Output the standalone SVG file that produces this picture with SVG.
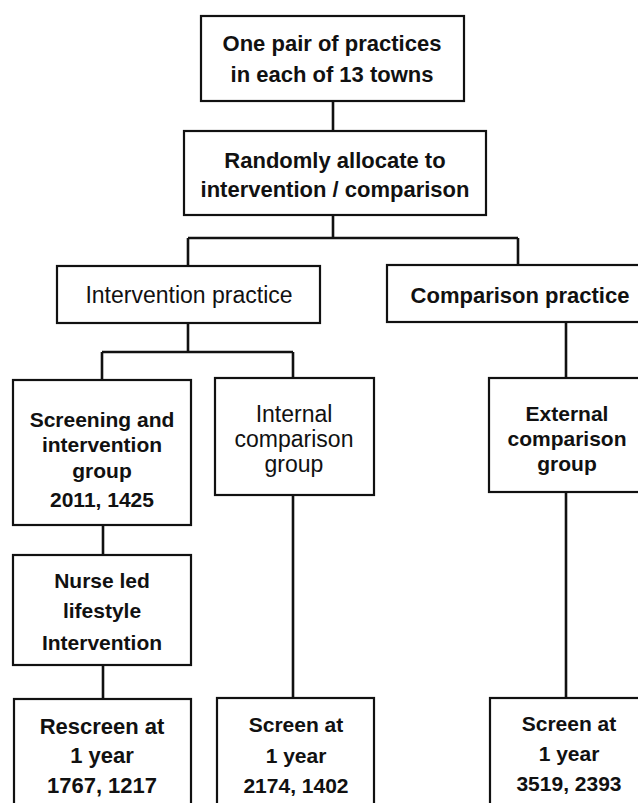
<svg xmlns="http://www.w3.org/2000/svg" width="638" height="803" viewBox="0 0 638 803">
<style>
  .box { fill: #ffffff; stroke: #111111; stroke-width: 2.2; }
  .con { fill: none; stroke: #111111; stroke-width: 2.6; }
  text { font-family: "Liberation Sans", Arial, sans-serif; fill: #111111; text-anchor: middle; }
  .b { font-size: 22px; font-weight: bold; }
  .m { font-size: 21px; font-weight: bold; }
  .r { font-size: 23px; font-weight: normal; }
</style>
<rect width="638" height="803" fill="#ffffff"/>
<g id="connectors">
  <path class="con" d="M333,101 V131"/>
  <path class="con" d="M333,215 V238 M188,238 H518 M188,238 V266 M518,238 V265"/>
  <path class="con" d="M188,323 V352 M102,352 H293 M102,352 V380 M293,352 V378"/>
  <path class="con" d="M566,322 V378"/>
  <path class="con" d="M103,525 V555"/>
  <path class="con" d="M103,665 V699"/>
  <path class="con" d="M293,495 V698"/>
  <path class="con" d="M566,492 V698"/>
</g>
<g id="start">
  <rect class="box" x="201" y="16" width="263" height="85"/>
  <text class="b" x="332" y="51">One pair of practices</text>
  <text class="b" x="332" y="82">in each of 13 towns</text>
</g>
<g id="randomise">
  <rect class="box" x="184" y="131" width="302" height="84"/>
  <text class="b" x="335" y="168">Randomly allocate to</text>
  <text class="b" x="335" y="197">intervention / comparison</text>
</g>
<g id="intervention-practice">
  <rect class="box" x="57" y="266" width="263" height="57"/>
  <text class="r" x="189" y="303">Intervention practice</text>
</g>
<g id="comparison-practice">
  <rect class="box" x="387" y="265" width="266" height="57"/>
  <text class="b" x="520" y="303">Comparison practice</text>
</g>
<g id="screening-group">
  <rect class="box" x="13" y="380" width="178" height="145"/>
  <text class="m" x="102" y="427">Screening and</text>
  <text class="m" x="102" y="452">intervention</text>
  <text class="m" x="102" y="478">group</text>
  <text class="m" x="102" y="507">2011, 1425</text>
</g>
<g id="internal-group">
  <rect class="box" x="215" y="378" width="159" height="117"/>
  <text class="r" x="294" y="422">Internal</text>
  <text class="r" x="294" y="447">comparison</text>
  <text class="r" x="294" y="472">group</text>
</g>
<g id="external-group">
  <rect class="box" x="489" y="378" width="157" height="114"/>
  <text class="m" x="567" y="421">External</text>
  <text class="m" x="567" y="446">comparison</text>
  <text class="m" x="567" y="471">group</text>
</g>
<g id="nurse-intervention">
  <rect class="box" x="13" y="555" width="178" height="110"/>
  <text class="m" x="102" y="588">Nurse led</text>
  <text class="m" x="102" y="618">lifestyle</text>
  <text class="m" x="102" y="650">Intervention</text>
</g>
<g id="rescreen">
  <rect class="box" x="14" y="699" width="177" height="120"/>
  <text class="b" x="102" y="734">Rescreen at</text>
  <text class="b" x="102" y="763">1 year</text>
  <text class="b" x="102" y="793">1767, 1217</text>
</g>
<g id="screen-internal">
  <rect class="box" x="217" y="698" width="157" height="120"/>
  <text class="m" x="296" y="732">Screen at</text>
  <text class="m" x="296" y="763">1 year</text>
  <text class="m" x="296" y="793">2174, 1402</text>
</g>
<g id="screen-external">
  <rect class="box" x="490" y="698" width="156" height="120"/>
  <text class="m" x="569" y="731">Screen at</text>
  <text class="m" x="569" y="761">1 year</text>
  <text class="m" x="569" y="791">3519, 2393</text>
</g>
</svg>
